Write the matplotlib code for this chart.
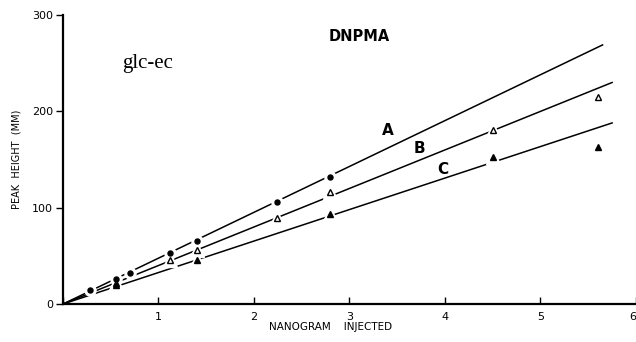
import matplotlib
matplotlib.use("Agg")
import matplotlib.pyplot as plt
import numpy as np

# data (ng injected vs peak height, mm)
x_a = [0.28, 0.56, 0.70, 1.12, 1.40, 2.24, 2.80]
y_a = [15, 26, 32, 53, 65, 106, 132]

x_b = [0.56, 1.12, 1.40, 2.24, 2.80, 4.50, 5.60]
y_b = [22, 46, 56, 89, 116, 181, 215]

x_c = [0.56, 1.40, 2.80, 4.50, 5.60]
y_c = [20, 46, 93, 153, 163]

# fitted calibration lines (through origin)
line_x = {"A": [0, 5.65], "B": [0, 5.75], "C": [0, 5.75]}
line_y = {"A": [0, 269], "B": [0, 230], "C": [0, 188]}

xticks = [0, 1, 2, 3, 4, 5, 6]
yticks = [0, 100, 200, 300]

fig = plt.figure(figsize=(6.36, 3.42), dpi=100)
ax = fig.add_axes([0.099, 0.111, 0.901, 0.845])

for k in ["A", "B", "C"]:
    ax.plot(line_x[k], line_y[k], color="black", lw=1.1, zorder=2)

# white halos break the lines around the points
ax.plot(x_a, y_a, "o", ms=8, color="white", mec="white", zorder=3)
ax.plot(x_b, y_b, "^", ms=10, color="white", mec="white", zorder=3)
ax.plot(x_c, y_c, "^", ms=10, color="white", mec="white", zorder=3)

ax.plot(x_a, y_a, "o", ms=3.6, color="black", zorder=4)
ax.plot(x_b, y_b, "^", ms=4.8, mfc="white", mec="black", mew=1.0, zorder=4)
ax.plot(x_c, y_c, "^", ms=4.8, color="black", zorder=4)

ax.set_xlim(0, 6)
ax.set_ylim(0, 300)
ax.set_xticks(xticks)
ax.set_yticks(yticks)
ax.set_xticklabels(["", "1", "2", "3", "4", "5", "6"])
ax.get_xticklabels()[-1].set_horizontalalignment("right")
ax.tick_params(axis="x", direction="in", length=5, width=1, labelsize=8, pad=6)
ax.tick_params(axis="y", direction="out", length=5, width=1, labelsize=8, pad=2)

for s in ["top", "right"]:
    ax.spines[s].set_visible(False)
ax.spines["left"].set_linewidth(1.6)
ax.spines["bottom"].set_linewidth(1.6)

ax.set_ylabel("PEAK  HEIGHT  (MM)", fontsize=7, labelpad=8)
fig.text(0.52, 0.045, "NANOGRAM    INJECTED", fontsize=7.5, ha="center", va="center")

ax.text(3.1, 278, "DNPMA", fontsize=10.5, fontweight="black", ha="center", va="center")
ax.text(0.62, 250, "glc-ec", fontsize=15, family="Liberation Serif", ha="left", va="center")

ax.text(3.4, 180, "A", fontsize=11, fontweight="black", ha="center", va="center")
ax.text(3.73, 161, "B", fontsize=11, fontweight="black", ha="center", va="center")
ax.text(3.98, 140, "C", fontsize=11, fontweight="black", ha="center", va="center")

fig.savefig("out.png", dpi=100)
